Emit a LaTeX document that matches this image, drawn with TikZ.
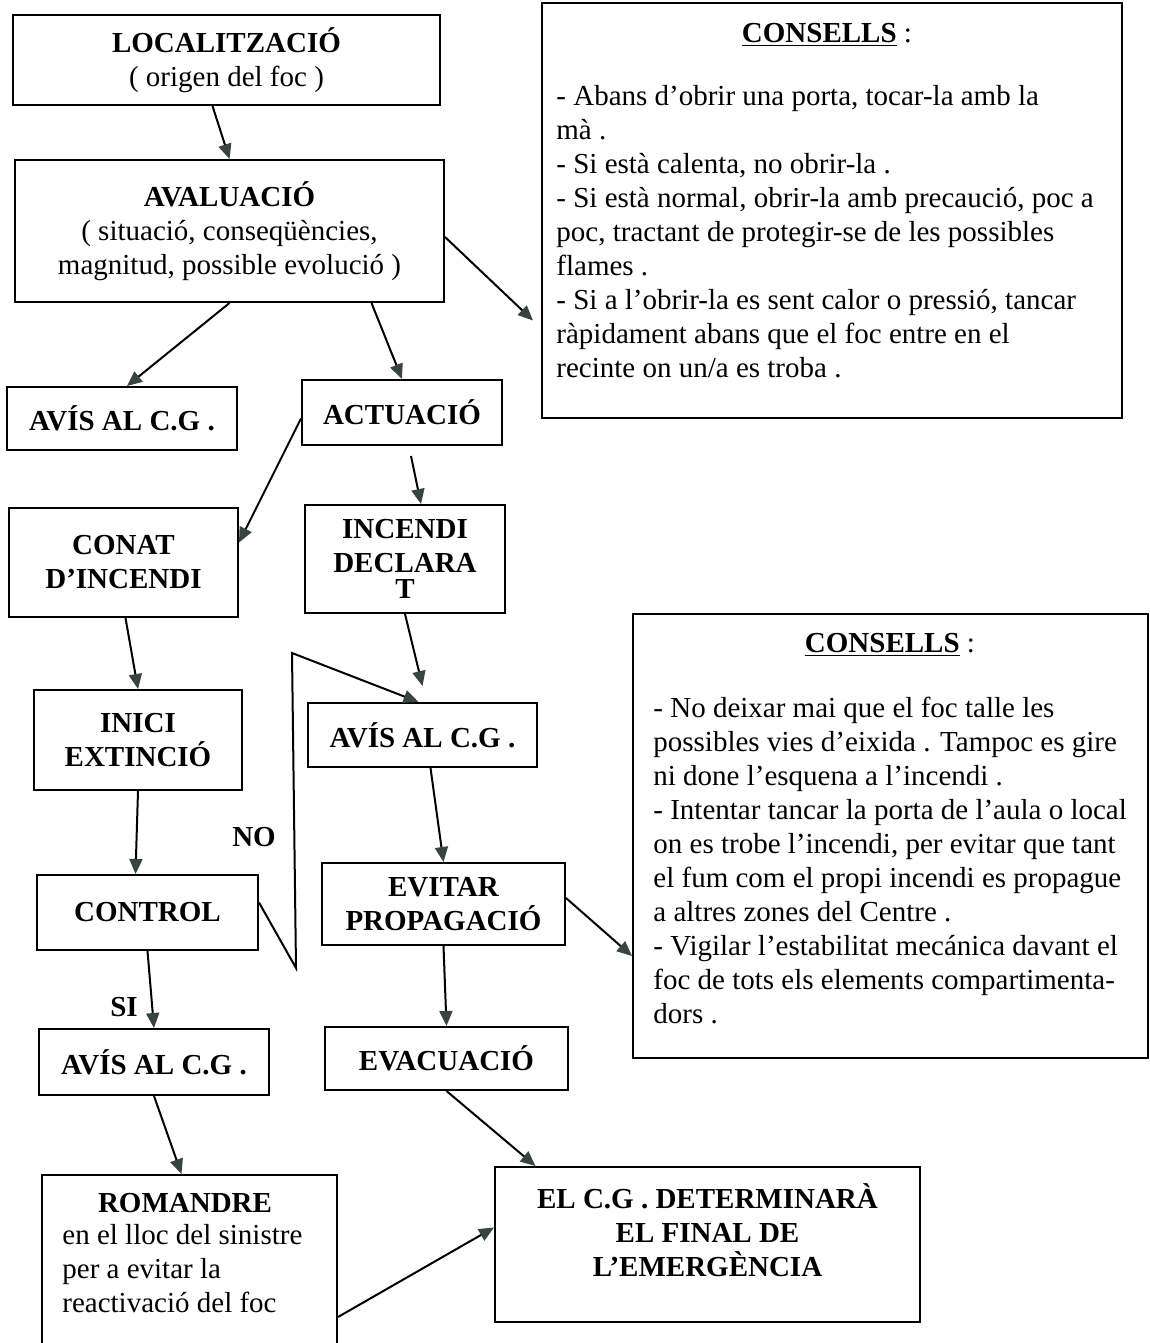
\documentclass[tikz,border=0pt]{standalone}
\usepackage{fontspec}
\setmainfont{Liberation Serif}
\usetikzlibrary{arrows.meta}
\definecolor{headgray}{RGB}{55,68,66}

\begin{document}
\begin{tikzpicture}[
	x=0.5pt, y=-0.5pt,
	every node/.style={font=\fontsize{14.5}{17}\selectfont},
	box/.style={draw, line width=1pt, align=center, inner sep=0pt},
	arr/.style={line width=1pt, -{Triangle[length=7.5pt,width=6.5pt,color=headgray]}}
	]
	\useasboundingbox (0,0) rectangle (1150,1343);
	\clip (0,0) rectangle (1150,1343);
	
	% left column and middle column
	\node[box, minimum width=213.5pt, minimum height=45pt] (loc) at (226.5,60) {\textbf{LOCALITZACIÓ}\\( origen del foc )};
	\node[box, minimum width=214.5pt, minimum height=71pt] (aval) at (229.5,231) {\textbf{AVALUACIÓ}\\( situació, conseqüències,\\magnitud, possible evolució )};
	\node[box, minimum width=115pt, minimum height=31.5pt] (avisA) at (122,418.5) {\textbf{AVÍS AL C.G .}};
	\node[box, minimum width=100pt, minimum height=32.5pt] (act) at (402,412.5) {\textbf{ACTUACIÓ}};
	\node[box, minimum width=114.5pt, minimum height=54.5pt] (conat) at (123.5,562.5) {\textbf{CONAT}\\\textbf{D’INCENDI}};
	\node[box, minimum width=100pt, minimum height=54pt] (incendi) at (405,559) {\textbf{INCENDI}\\\textbf{DECLARA}\\[-4pt]\textbf{T}};
	\node[box, minimum width=104pt, minimum height=50pt] (inici) at (138,740) {\textbf{INICI}\\\textbf{EXTINCIÓ}};
	\node[box, minimum width=114.5pt, minimum height=32pt] (avisB) at (422.5,735) {\textbf{AVÍS AL C.G .}};
	\node[box, minimum width=110.5pt, minimum height=37.5pt] (control) at (147.5,912.5) {\textbf{CONTROL}};
	\node[box, minimum width=121.5pt, minimum height=41pt] (evitar) at (443.5,904) {\textbf{EVITAR}\\\textbf{PROPAGACIÓ}};
	\node[box, minimum width=115pt, minimum height=33pt] (avisC) at (154,1062) {\textbf{AVÍS AL C.G .}};
	\node[box, minimum width=121.5pt, minimum height=31.5pt] (evac) at (446.5,1058.5) {\textbf{EVACUACIÓ}};
	\node[box, minimum width=147.5pt, minimum height=110pt] (roman) at (189.5,1285) {};
	\node[box, minimum width=212.5pt, minimum height=77.5pt] (final) at (707.5,1244.5) {};
	
	% advice boxes
	\node[box, minimum width=290pt, minimum height=207.5pt] (cons1) at (832,210.5) {};
	\node[box, minimum width=257.5pt, minimum height=222pt] (cons2) at (890.5,836) {};
	
	% texts inside the large boxes
	\node (cons1head) at (827,35) {\underline{\textbf{CONSELLS}} :};
	\node[anchor=north west, align=left, inner sep=0pt] (cons1txt) at (556,85) {- Abans d’obrir una porta, tocar-la amb la\\mà .\\- Si està calenta, no obrir-la .\\- Si està normal, obrir-la amb precaució, poc a\\poc, tractant de protegir-se de les possibles\\flames .\\- Si a l’obrir-la es sent calor o pressió, tancar\\ràpidament abans que el foc entre en el\\recinte on un/a es troba .};
	\node (cons2head) at (890,645) {\underline{\textbf{CONSELLS}} :};
	\node[anchor=north west, align=left, inner sep=0pt] (cons2txt) at (653,697) {- No deixar mai que el foc talle les\\possibles vies d’eixida . Tampoc es gire\\ni done l’esquena a l’incendi .\\- Intentar tancar la porta de l’aula o local\\on es trobe l’incendi, per evitar que tant\\el fum com el propi incendi es propague\\a altres zones del Centre .\\- Vigilar l’estabilitat mecánica davant el\\foc de tots els elements compartimenta-\\dors .};
	\node (romanhead) at (185,1203) {\textbf{ROMANDRE}};
	\node[anchor=north west, align=left, inner sep=0pt] (romantxt) at (62,1224) {en el lloc del sinistre\\per a evitar la\\reactivació del foc};
	\node[align=center] (finaltxt) at (707.5,1230.5) {\textbf{EL C.G . DETERMINARÀ}\\\textbf{EL FINAL DE}\\\textbf{L’EMERGÈNCIA}};
	
	\node (no) at (254,837) {\textbf{NO}};
	\node (si) at (124,1007) {\textbf{SI}};
	\coordinate (nolow) at (296,968);
	\coordinate (nohigh) at (292,653);
	
	% arrows
	\draw[arr] ([xshift=-7pt]loc.south) -- (aval.north);
	\draw[arr] ([yshift=-3pt]aval.east) -- ([xshift=-4pt,yshift=-55pt]cons1.west);
	\draw[arr] (aval.south) -- ([xshift=2.5pt]avisA.north);
	\draw[arr] ([xshift=71pt]aval.south) -- (act.north);
	\draw[arr] ([yshift=-3pt]act.west) -- ([yshift=10pt]conat.east);
	\draw[arr] ([xshift=4.5pt,yshift=-5pt]act.south) -- ([xshift=8pt]incendi.north);
	\draw[arr] (incendi.south) -- ([yshift=8pt]avisB.north);
	\draw[arr] ([xshift=1pt]conat.south) -- (inici.north);
	\draw[arr] (inici.south) -- ([xshift=-6pt]control.north);
	\draw[arr] (control.south) -- (avisC.north);
	\draw[arr] ([xshift=4pt]avisB.south) -- (evitar.north);
	\draw[arr] ([yshift=3pt]evitar.east) -- ([yshift=-60pt]cons2.west);
	\draw[arr] (evitar.south) -- (evac.north);
	\draw[arr] (avisC.south) -- ([xshift=-4pt]roman.north);
	\draw[arr] (evac.south) -- ([xshift=-86pt]final.north);
	\draw[arr] ([yshift=-71.5pt]roman.north east) -- ([yshift=8.5pt]final.west);
	\draw[arr] ([yshift=5pt]control.east) -- (nolow) -- (nohigh) -- ([xshift=-2pt]avisB.north);
\end{tikzpicture}
\end{document}
